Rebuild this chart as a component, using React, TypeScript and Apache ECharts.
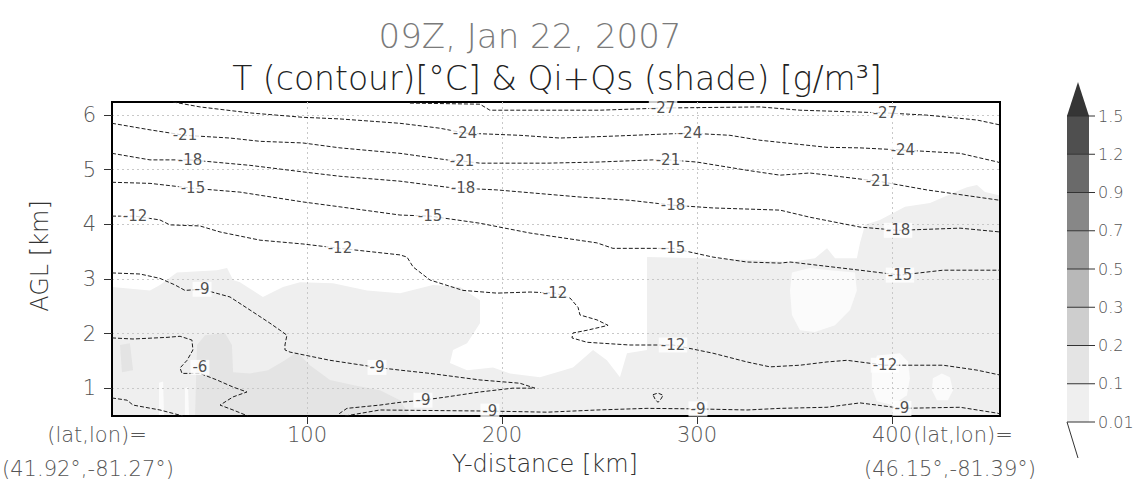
import React, { useEffect, useRef } from "react";
import * as echarts from "echarts";

// ---- axes ----
const xTicks = [100, 200, 300, 400];
const yTicks = [1, 2, 3, 4, 5, 6];
const xMin = 0;
const xMax = 455.4;
const yMin = 0.49;
const yMax = 6.24;

// ---- temperature contours [Y-distance km, AGL km] ----
const t27 = [[152.8, 6.22], [188.7, 6.2], [193.8, 6.09], [250.3, 6.09], [282.6, 6.13], [332.3, 6.15], [352.8, 6.09], [396.4, 6.04], [417.9, 6.0], [443.6, 5.91], [455.4, 5.82]];
const t24 = [[31.3, 6.24], [45.1, 6.15], [70.8, 6.04], [97.9, 5.96], [116.9, 5.93], [147.7, 5.85], [168.2, 5.76], [181, 5.67], [209.2, 5.63], [229.7, 5.58], [260.5, 5.62], [281, 5.65], [296.4, 5.67], [316.9, 5.63], [332.3, 5.54], [366.7, 5.41], [383.6, 5.4], [405.6, 5.36], [434.9, 5.3], [454.4, 5.14], [455.4, 5.12]];
const t21 = [[0, 5.85], [19.5, 5.73], [37.4, 5.63], [60.5, 5.58], [75.9, 5.52], [97.9, 5.49], [116.9, 5.4], [147.7, 5.3], [171.8, 5.18], [179.5, 5.16], [188.7, 5.12], [223.1, 5.12], [248.7, 5.14], [277.4, 5.18], [285.1, 5.18], [300, 5.14], [325.6, 4.99], [342.6, 4.9], [357.9, 4.94], [392.8, 4.79], [417.9, 4.63], [455.4, 4.44]];
const t18 = [[0, 5.3], [19.5, 5.18], [40, 5.18], [70.8, 5.08], [97.9, 4.96], [116.9, 4.88], [147.7, 4.79], [171.8, 4.68], [180, 4.66], [197.4, 4.63], [240, 4.5], [265.6, 4.44], [287.7, 4.35], [308.2, 4.3], [342.6, 4.26], [357.9, 4.13], [383.6, 3.95], [403.1, 3.89], [434.9, 3.93], [455.4, 3.86]];
const t15 = [[0, 4.77], [19.5, 4.75], [41.5, 4.66], [65.6, 4.59], [97.9, 4.41], [116.9, 4.32], [147.7, 4.17], [163.1, 4.15], [188.7, 4.02], [214.4, 3.84], [248.7, 3.66], [256.9, 3.56], [287.7, 3.56], [308.2, 3.4], [325.6, 3.31], [342.6, 3.29], [347.7, 3.31], [383.6, 3.16], [404.1, 3.07], [426.2, 3.16], [455.4, 3.16]];
const t12 = [[0, 4.15], [11.8, 4.15], [24.6, 4.08], [29.7, 3.99], [45.1, 3.97], [55.4, 3.86], [75.9, 3.71], [97.9, 3.64], [116.9, 3.56], [147.7, 3.44], [151.3, 3.4], [154.4, 3.22], [163.1, 2.98], [180, 2.79], [197.4, 2.74], [214.4, 2.76], [227.2, 2.74], [234.9, 2.65], [239, 2.48], [240, 2.34], [248.7, 2.25], [254.4, 2.15], [243.6, 2.06], [236.4, 2.01], [235.9, 1.92], [243.6, 1.84], [265.6, 1.79], [287.7, 1.79], [308.2, 1.64], [325.6, 1.48], [337.4, 1.39], [352.8, 1.42], [366.7, 1.48], [376.9, 1.51], [396.4, 1.42], [426.2, 1.42], [443.6, 1.33], [455.4, 1.24]];
const t9Upper = [[0, 3.11], [14.4, 3.09], [24.6, 3.01], [32.3, 2.89], [37.4, 2.79], [46.2, 2.81], [60.5, 2.67], [70.8, 2.43], [81, 2.19], [86.2, 2.06], [89.7, 1.97], [88.7, 1.79], [88.7, 1.7], [91.3, 1.66], [111.8, 1.51], [135.9, 1.38], [147.7, 1.33], [163.1, 1.27], [188.7, 1.15], [209.2, 1.09], [216.9, 1.0], [205.6, 1.0], [188.7, 0.93], [171.8, 0.84], [159.5, 0.78], [147.7, 0.74], [137.4, 0.69], [120.5, 0.63], [116, 0.52]];
const t9Ground = [[119.5, 0.49], [137.4, 0.6], [193.8, 0.58], [223.1, 0.56], [248.7, 0.6], [274.4, 0.63], [300.5, 0.62], [325.6, 0.6], [342.6, 0.63], [366.7, 0.65], [383.6, 0.73], [405.1, 0.63], [434.9, 0.65], [454.4, 0.54], [455.4, 0.52]];
const t9Loop = [[277.4, 0.88], [280, 0.91], [282.6, 0.87], [281.5, 0.8], [280, 0.74], [278.5, 0.8], [277.4, 0.88]];
const t6 = [[0, 1.92], [10.8, 1.9], [28.2, 1.93], [34.9, 1.95], [41, 1.88], [41.5, 1.7], [38.5, 1.51], [34.9, 1.37], [35.9, 1.27], [45.1, 1.27], [53.8, 1.15], [62.1, 1.02], [69.2, 0.93], [62.1, 0.84], [55.4, 0.69], [62.1, 0.6], [69.7, 0.49]];
const t6Ground = [[0, 0.82], [7.7, 0.78], [10.8, 0.69], [24.6, 0.6], [36.4, 0.49]];

const contourLines = [t27, t24, t21, t18, t15, t12, t9Upper, t9Ground, t9Loop, t6, t6Ground];

// contour labels: [km, km, °C]
const contourLabels = [
  [282.6, 6.13, -27], [396.4, 6.04, -27],
  [181, 5.67, -24], [296.4, 5.67, -24], [405.6, 5.36, -24],
  [37.4, 5.63, -21], [179.5, 5.16, -21], [285.1, 5.18, -21], [392.8, 4.79, -21],
  [40, 5.18, -18], [180, 4.66, -18], [287.7, 4.35, -18], [403.1, 3.89, -18],
  [41.5, 4.66, -15], [163.1, 4.15, -15], [287.7, 3.56, -15], [404.1, 3.07, -15],
  [11.8, 4.15, -12], [116.9, 3.56, -12], [227.2, 2.74, -12], [287.7, 1.79, -12], [396.4, 1.42, -12],
  [46.2, 2.81, -9], [135.9, 1.38, -9], [159.5, 0.78, -9], [193.8, 0.58, -9], [300.5, 0.62, -9], [405.1, 0.63, -9],
  [45.1, 1.38, -6],
];

// ---- Qi+Qs shading regions [km, km] ----
const qLow = [[0, 2.85], [19.5, 2.79], [24.6, 2.89], [33.3, 3.12], [53.8, 3.16], [59, 3.2], [62.1, 2.98], [65.6, 2.94], [77.4, 2.67], [87.7, 2.85], [96.4, 2.94], [113.3, 2.92], [130.8, 2.79], [147.7, 2.74], [164.6, 2.89], [178.5, 2.85], [188.7, 2.61], [188.7, 2.19], [182.1, 1.82], [174.9, 1.7], [173.3, 1.46], [182.1, 1.33], [195.4, 1.38], [204.1, 1.27], [219.5, 1.2], [236.4, 1.38], [246.7, 1.7], [253.8, 1.51], [260.5, 1.2], [264.1, 1.64], [274.4, 1.7], [274.4, 3.4], [301.5, 3.38], [332.3, 3.34], [347.7, 3.31], [360.5, 3.38], [366.7, 3.56], [370.8, 3.38], [382, 3.38], [383.6, 3.66], [386.2, 3.99], [393.8, 4.08], [406.7, 4.32], [419.5, 4.39], [434.9, 4.63], [438.5, 4.68], [443.6, 4.72], [447.7, 4.59], [455.4, 4.53], [455.4, 0.49], [0, 0.49]];
const qMid = [[42.6, 0.49], [43.6, 1.79], [47.7, 1.97], [57.9, 2.01], [61.5, 1.79], [62.1, 1.29], [70.8, 1.27], [80, 1.33], [88.7, 1.51], [94.9, 1.66], [101.5, 1.42], [111.8, 1.15], [124.6, 1.05], [137.4, 0.96], [147.7, 0.78], [152.8, 0.49]];
const qMidStreak = [[4.1, 1.79], [9.2, 1.82], [10.8, 1.33], [5.1, 1.29]];
const qClearA = [[348.7, 3.12], [357.9, 3.2], [368.2, 3.16], [381, 3.12], [382, 2.79], [378.5, 2.43], [370.8, 2.15], [360.5, 2.03], [352.8, 2.06], [348.7, 2.34], [347.7, 2.79]];
const qClearB = [[392.3, 1.6], [404.1, 1.64], [408.2, 1.49], [409.2, 1.18], [407.7, 0.87], [400.5, 0.69], [392.3, 0.76], [389.7, 1.0], [389.7, 1.27]];
const qClearC = [[425.6, 1.27], [429.7, 1.2], [431.3, 0.96], [428.7, 0.78], [423.1, 0.78], [420.5, 0.96], [421, 1.18]];
const qThinD = [[24.1, 1.1], [26.2, 1.12], [26.7, 0.49], [24.1, 0.49]];
const qThinE = [[37.4, 1.0], [39, 1.02], [39.5, 0.49], [37.4, 0.49]];

// shading value of each region, g/m³
const shadeRegions = [qLow, qMid, qMidStreak, qClearA, qClearB, qClearC, qThinD, qThinE];
const shadeValues = [0.05, 0.15, 0.15, 0, 0, 0, 0, 0];

// ---- colour bar ----
const cbLevels = [0.01, 0.1, 0.2, 0.3, 0.5, 0.7, 0.9, 1.2, 1.5];
const cbColors = ["#efefef", "#e4e4e4", "#cecece", "#b8b8b8", "#9e9e9e", "#878787", "#6a6a6a", "#4f4f4f", "#353535"];

const FONT = '"DejaVu Sans", Verdana, sans-serif';

function shadeColor(q: number): string {
  if (q < cbLevels[0]) return "#fbfbfb";
  let bin = 0;
  for (let i = 0; i < cbLevels.length; i++) if (q >= cbLevels[i]) bin = i;
  return cbColors[bin];
}

function colorBar(): any[] {
  const x = 1067;
  const w = 22;
  const bottom = 422;
  const step = 38.25;
  const els: any[] = [];
  for (let i = 0; i < cbLevels.length - 1; i++) {
    els.push({
      type: "rect",
      shape: { x, y: bottom - (i + 1) * step, width: w, height: step },
      style: { fill: cbColors[i] },
    });
  }
  const top = bottom - (cbLevels.length - 1) * step;
  els.push({
    type: "polygon",
    shape: { points: [[x, top], [x + w, top], [x + w / 2, top - 34]] },
    style: { fill: cbColors[cbLevels.length - 1] },
  });
  cbLevels.forEach((lv, i) => {
    const y = bottom - i * step;
    els.push({
      type: "line",
      shape: { x1: x, y1: y, x2: x + w + 6, y2: y },
      style: { stroke: "#333", lineWidth: 1 },
    });
    els.push({
      type: "text",
      x: x + w + 9,
      y,
      style: { text: String(lv), font: `200 16px ${FONT}`, fill: "#555", align: "left", verticalAlign: "middle" },
    });
  });
  els.push({
    type: "polyline",
    shape: { points: [[x, bottom], [x + 11, bottom + 36]] },
    style: { stroke: "#333", lineWidth: 1, fill: null },
  });
  return els;
}

function text(t: string, x: number, y: number, size: number, color: string, extra: any = {}) {
  return {
    type: "text",
    x,
    y,
    ...extra,
    style: { text: t, font: `200 ${size}px ${FONT}`, fill: color, align: "center", verticalAlign: "middle" },
  };
}

export default function App() {
  const ref = useRef<HTMLDivElement>(null);

  useEffect(() => {
    if (!ref.current) return;
    const chart = echarts.init(ref.current, null, { renderer: "svg" });

    const tickLabel = { fontSize: 21, color: "#555", fontFamily: FONT, fontWeight: 200 };

    const option: any = {
      animation: false,
      backgroundColor: "#ffffff",
      grid: { left: 112, top: 102, width: 888, height: 314, show: true, borderColor: "#000", borderWidth: 2, backgroundColor: "transparent" },
      xAxis: {
        type: "value",
        min: xMin,
        max: xMax,
        axisLine: { show: true, lineStyle: { color: "#000", width: 2 } },
        axisTick: { show: true, customValues: xTicks, length: 8, lineStyle: { color: "#333", width: 1 } },
        axisLabel: { customValues: xTicks, margin: 8, ...tickLabel },
        splitLine: { show: true, lineStyle: { color: "#c8c8c8", width: 1, type: [2, 3] } },
      },
      yAxis: {
        type: "value",
        min: yMin,
        max: yMax,
        axisLine: { show: true, lineStyle: { color: "#000", width: 2 } },
        axisTick: { show: true, customValues: yTicks, length: 8, lineStyle: { color: "#333", width: 1 } },
        axisLabel: { customValues: yTicks, margin: 16, ...tickLabel },
        splitLine: { show: true, lineStyle: { color: "#c8c8c8", width: 1, type: [2, 3] } },
      },
      series: [
        {
          type: "custom",
          name: "Qi+Qs",
          z: -1,
          silent: true,
          data: shadeRegions.map((r, i) => [r[0][0], r[0][1], i]),
          encode: { x: 0, y: 1 },
          renderItem: (params: any, api: any) => {
            const i = params.dataIndex;
            const pts = shadeRegions[i].map((p) => api.coord(p));
            return {
              type: "polygon",
              shape: { points: pts },
              style: { fill: shadeColor(shadeValues[i]), stroke: null },
            };
          },
        },
        ...contourLines.map((pts) => ({
          type: "line",
          name: "T",
          z: 3,
          silent: true,
          symbol: "none",
          data: pts,
          lineStyle: { color: "#1c1c1c", width: 1, type: [4, 2] },
        })),
        {
          type: "scatter",
          name: "T labels",
          z: 4,
          silent: true,
          symbolSize: 0,
          itemStyle: { color: "transparent" },
          data: contourLabels,
          label: {
            show: true,
            position: "inside",
            formatter: (p: any) => String(p.value[2]),
            fontFamily: FONT,
            fontSize: 15,
            color: "#222",
            backgroundColor: "#ffffff",
            padding: [0, 2],
          },
        },
      ],
      graphic: [
        text("09Z, Jan 22, 2007", 530, 36, 34, "#7a7a7a"),
        text("T (contour)[°C] & Qi+Qs (shade) [g/m³]", 557, 78, 33, "#222"),
        text("AGL [km]", 40, 256, 24, "#333", { rotation: Math.PI / 2 }),
        text("Y-distance [km]", 545, 464, 24, "#333"),
        text("(lat,lon)=", 97, 435, 21, "#555"),
        text("(41.92°,-81.27°)", 88, 469, 21, "#555"),
        text("(lat,lon)=", 963, 435, 21, "#555"),
        text("(46.15°,-81.39°)", 950, 469, 21, "#555"),
        ...colorBar(),
      ],
    };

    chart.setOption(option);
    return () => chart.dispose();
  }, []);

  return (
    <div
      ref={ref}
      style={{ position: "fixed", left: 0, top: 0, width: 1145, height: 492, background: "#fff" }}
    />
  );
}
